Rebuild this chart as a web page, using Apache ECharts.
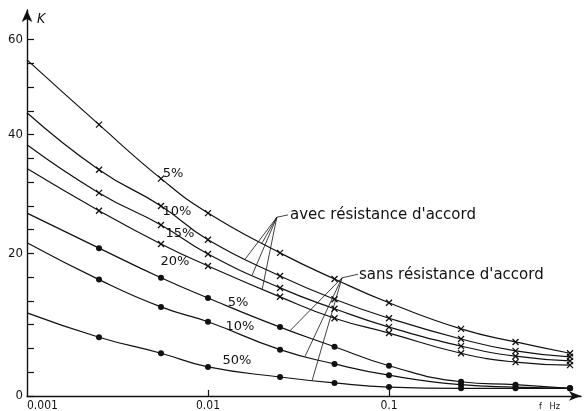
<!DOCTYPE html>
<html>
<head>
<meta charset="utf-8">
<title>K en fonction de f</title>
<script src="https://cdn.jsdelivr.net/npm/echarts@6/dist/echarts.min.js"></script>
<style>
  html, body { margin : 0; padding : 0; background : #fff; }
  #chart     { width : 585px; height : 411px; }
</style>
</head>
<body>
<div id="chart"></div>
<script>
// ------------------------------ BEGIN CHART DATA ----------------------------
// frequencies (Hz) where the curves were measured
var freqs = [0.001, 0.0025, 0.0055, 0.01, 0.025, 0.05, 0.1, 0.25, 0.5, 1];

// avec résistance d'accord (croix)
var avec5  = [56.6, 45.7, 36.6, 30.8, 24.1, 19.7, 15.7, 11.3, 9.1, 7.2];
var avec10 = [47.7, 38.1, 32.0, 26.3, 20.2, 16.3, 13.1, 9.6, 7.6, 6.6];
var avec15 = [42.3, 34.2, 28.8, 23.9, 18.2, 14.7, 11.6, 8.4, 6.7, 5.9];
var avec20 = [38.3, 31.2, 25.6, 21.9, 16.7, 13.1, 10.6, 7.2, 5.7, 5.2];

// sans résistance d'accord (points)
var sans5  = [30.8, 24.9, 19.9, 16.5, 11.6, 8.3, 5.1, 2.4, 1.9, 1.3];
var sans10 = [25.8, 19.6, 15.0, 12.5, 7.8, 5.4, 3.5, 1.9, 1.5, 1.3];
var sans50 = [14.0, 9.9, 7.2, 4.9, 3.2, 2.2, 1.5, 1.3, 1.3, 1.3];

// tick marks and labels, as printed on the original figure
var xTickValues  = [0.01, 0.1];
var xLabelValues = [0.001, 0.01, 0.1];
var xLabelTexts  = ['0.001', '0.01', '0.1'];
var yTickValues  = [0, 4, 8, 12, 16, 20, 24, 28, 32, 36, 40, 44, 48, 52, 56, 60];
var yLabelValues = [0, 24, 44, 60];
var yLabelTexts  = ['0', '20', '40', '60'];

// leader lines : [f, K] of the fan apex, end of the dash, points on curves
var avecApex  = [0.024, 30.1];
var avecDash  = [0.0277, 30.5];
var avecEnds  = [[0.0199, 25.8], [0.0160, 23.0], [0.0175, 20.3], [0.0199, 17.9]];
var sansApex  = [0.055, 19.9];
var sansDash  = [0.0674, 20.5];
var sansEnds  = [[0.0284, 11.0], [0.0344, 6.7], [0.0376, 2.6]];
// ------------------------------- END CHART DATA -----------------------------

var chartSelf = (function () {
  // ---------------------- BEGIN MODULE SCOPE VARIABLES ---------------------
  var
    INK   = '#111',
    FONT  = "'DejaVu Sans', sans-serif",
    NUM   = "'Liberation Sans Narrow', 'DejaVu Sans Condensed', 'Liberation Sans', sans-serif",
    CROSS = 'path://M0,0L10,10M10,0L0,10',

    makeSeries, makeLeader, makeText, renderChart, initModule
  ;
  // ----------------------- END MODULE SCOPE VARIABLES ----------------------

  // -------------------------- BEGIN UTILITY METHODS ------------------------
  // one curve; the first point (f = 0.001) is only the start of the line
  makeSeries = function (name, values, is_cross) {
    var i, data = [];
    for (i = 0; i < freqs.length; i++) {
      if (i === 0) {
        data.push({ value : [freqs[i], values[i]], symbol : 'none' });
      } else {
        data.push([freqs[i], values[i]]);
      }
    }
    return {
      name           : name,
      type           : 'line',
      data           : data,
      smooth         : 0.5,
      showAllSymbol  : true,
      symbol         : is_cross ? CROSS : 'circle',
      symbolSize     : 6,
      lineStyle      : { color : INK, width : 1.2 },
      itemStyle      : is_cross
        ? { color : 'transparent', borderColor : INK, borderWidth : 1.3 }
        : { color : INK, borderWidth : 0 },
      emphasis       : { disabled : true },
      silent         : true,
      z              : 3
    };
  };

  // fan of thin lines from a label to its curves
  makeLeader = function (apex, dash, ends) {
    var i, lines = [[{ coord : apex }, { coord : dash }]];
    for (i = 0; i < ends.length; i++) {
      lines.push([{ coord : apex }, { coord : ends[i] }]);
    }
    return {
      type   : 'line',
      data   : [],
      silent : true,
      markLine : {
        silent    : true,
        symbol    : ['none', 'none'],
        label     : { show : false },
        lineStyle : { color : INK, width : 0.8, type : 'solid' },
        emphasis  : { disabled : true },
        data      : lines
      }
    };
  };

  makeText = function (text, x, y, size, align) {
    return {
      type : 'text',
      x    : x,
      y    : y,
      silent : true,
      style : {
        text          : text,
        font          : size + 'px ' + FONT,
        fill          : INK,
        align         : align || 'center',
        verticalAlign : 'middle'
      }
    };
  };
  // --------------------------- END UTILITY METHODS -------------------------

  // ---------------------------- BEGIN DOM METHODS --------------------------
  renderChart = function (dom) {
    var myChart = echarts.init(dom, null, { renderer : 'canvas' });

    myChart.setOption({
      animation       : false,
      backgroundColor : '#fff',
      grid : { left : 27, right : 4, top : 10, bottom : 15, outerBoundsMode : 'none' },
      xAxis : {
        type    : 'log',
        logBase : 10,
        min     : 0.001,
        max     : 1.15,
        name    : 'f   Hz',
        nameLocation : 'end',
        nameGap      : -42,
        nameTextStyle : {
          color : INK, fontSize : 9, fontFamily : NUM,
          verticalAlign : 'top', padding : [6, 0, 0, 0]
        },
        axisLine  : {
          lineStyle : { color : INK, width : 1.4 },
          symbol : ['none', 'arrow'], symbolSize : [7, 12]
        },
        axisTick  : {
          inside : true, length : 6, customValues : xTickValues,
          lineStyle : { color : INK, width : 1.2 }
        },
        axisLabel : {
          customValues : xLabelValues,
          alignMinLabel : 'left',
          margin : 4,
          color : INK, fontSize : 12, fontFamily : NUM,
          formatter : function (v) {
            var i;
            for (i = 0; i < xLabelValues.length; i++) {
              if (Math.abs(Math.log(v / xLabelValues[i])) < 0.01) { return xLabelTexts[i]; }
            }
            return '';
          }
        },
        splitLine : { show : false }
      },
      yAxis : {
        type : 'value',
        min  : 0,
        max  : 65,
        name : 'K',
        nameLocation : 'end',
        nameGap      : -16,
        nameTextStyle : {
          color : INK, fontSize : 14, fontFamily : NUM, fontStyle : 'italic',
          align : 'left', verticalAlign : 'bottom', padding : [0, 0, 0, 10]
        },
        axisLine  : {
          show : true,
          lineStyle : { color : INK, width : 1.4 },
          symbol : ['none', 'arrow'], symbolSize : [8, 12]
        },
        axisTick  : {
          show : true, inside : true, length : 7, customValues : yTickValues,
          lineStyle : { color : INK, width : 1.2 }
        },
        axisLabel : {
          customValues : yLabelValues,
          margin : 4,
          color : INK, fontSize : 13, fontFamily : NUM,
          formatter : function (v) {
            var i = yLabelValues.indexOf(Math.round(v));
            return i < 0 ? '' : yLabelTexts[i];
          }
        },
        splitLine : { show : false }
      },
      series : [
        makeSeries('avec 5%',  avec5,  true),
        makeSeries('avec 10%', avec10, true),
        makeSeries('avec 15%', avec15, true),
        makeSeries('avec 20%', avec20, true),
        makeSeries('sans 5%',  sans5,  false),
        makeSeries('sans 10%', sans10, false),
        makeSeries('sans 50%', sans50, false),
        makeLeader(avecApex, avecDash, avecEnds),
        makeLeader(sansApex, sansDash, sansEnds)
      ],
      // curve names and the two captions
      graphic : [
        makeText('5%',  173, 174, 13),
        makeText('10%', 177, 212, 13),
        makeText('15%', 180, 234, 13),
        makeText('20%', 175, 262, 13),
        makeText('5%',  238, 303, 13),
        makeText('10%', 240, 327, 13),
        makeText('50%', 237, 361, 13),
        makeText("avec résistance d'accord", 290, 215, 15, 'left'),
        makeText("sans résistance d'accord", 359, 275, 15, 'left')
      ]
    });
  };
  // ----------------------------- END DOM METHODS ---------------------------

  // -------------------------- BEGIN PUBLIC METHODS -------------------------
  initModule = function (dom) {
    renderChart(dom);
    return true;
  };

  return { initModule : initModule };
  // --------------------------- END PUBLIC METHODS --------------------------
}());

chartSelf.initModule(document.getElementById('chart'));
</script>
</body>
</html>
